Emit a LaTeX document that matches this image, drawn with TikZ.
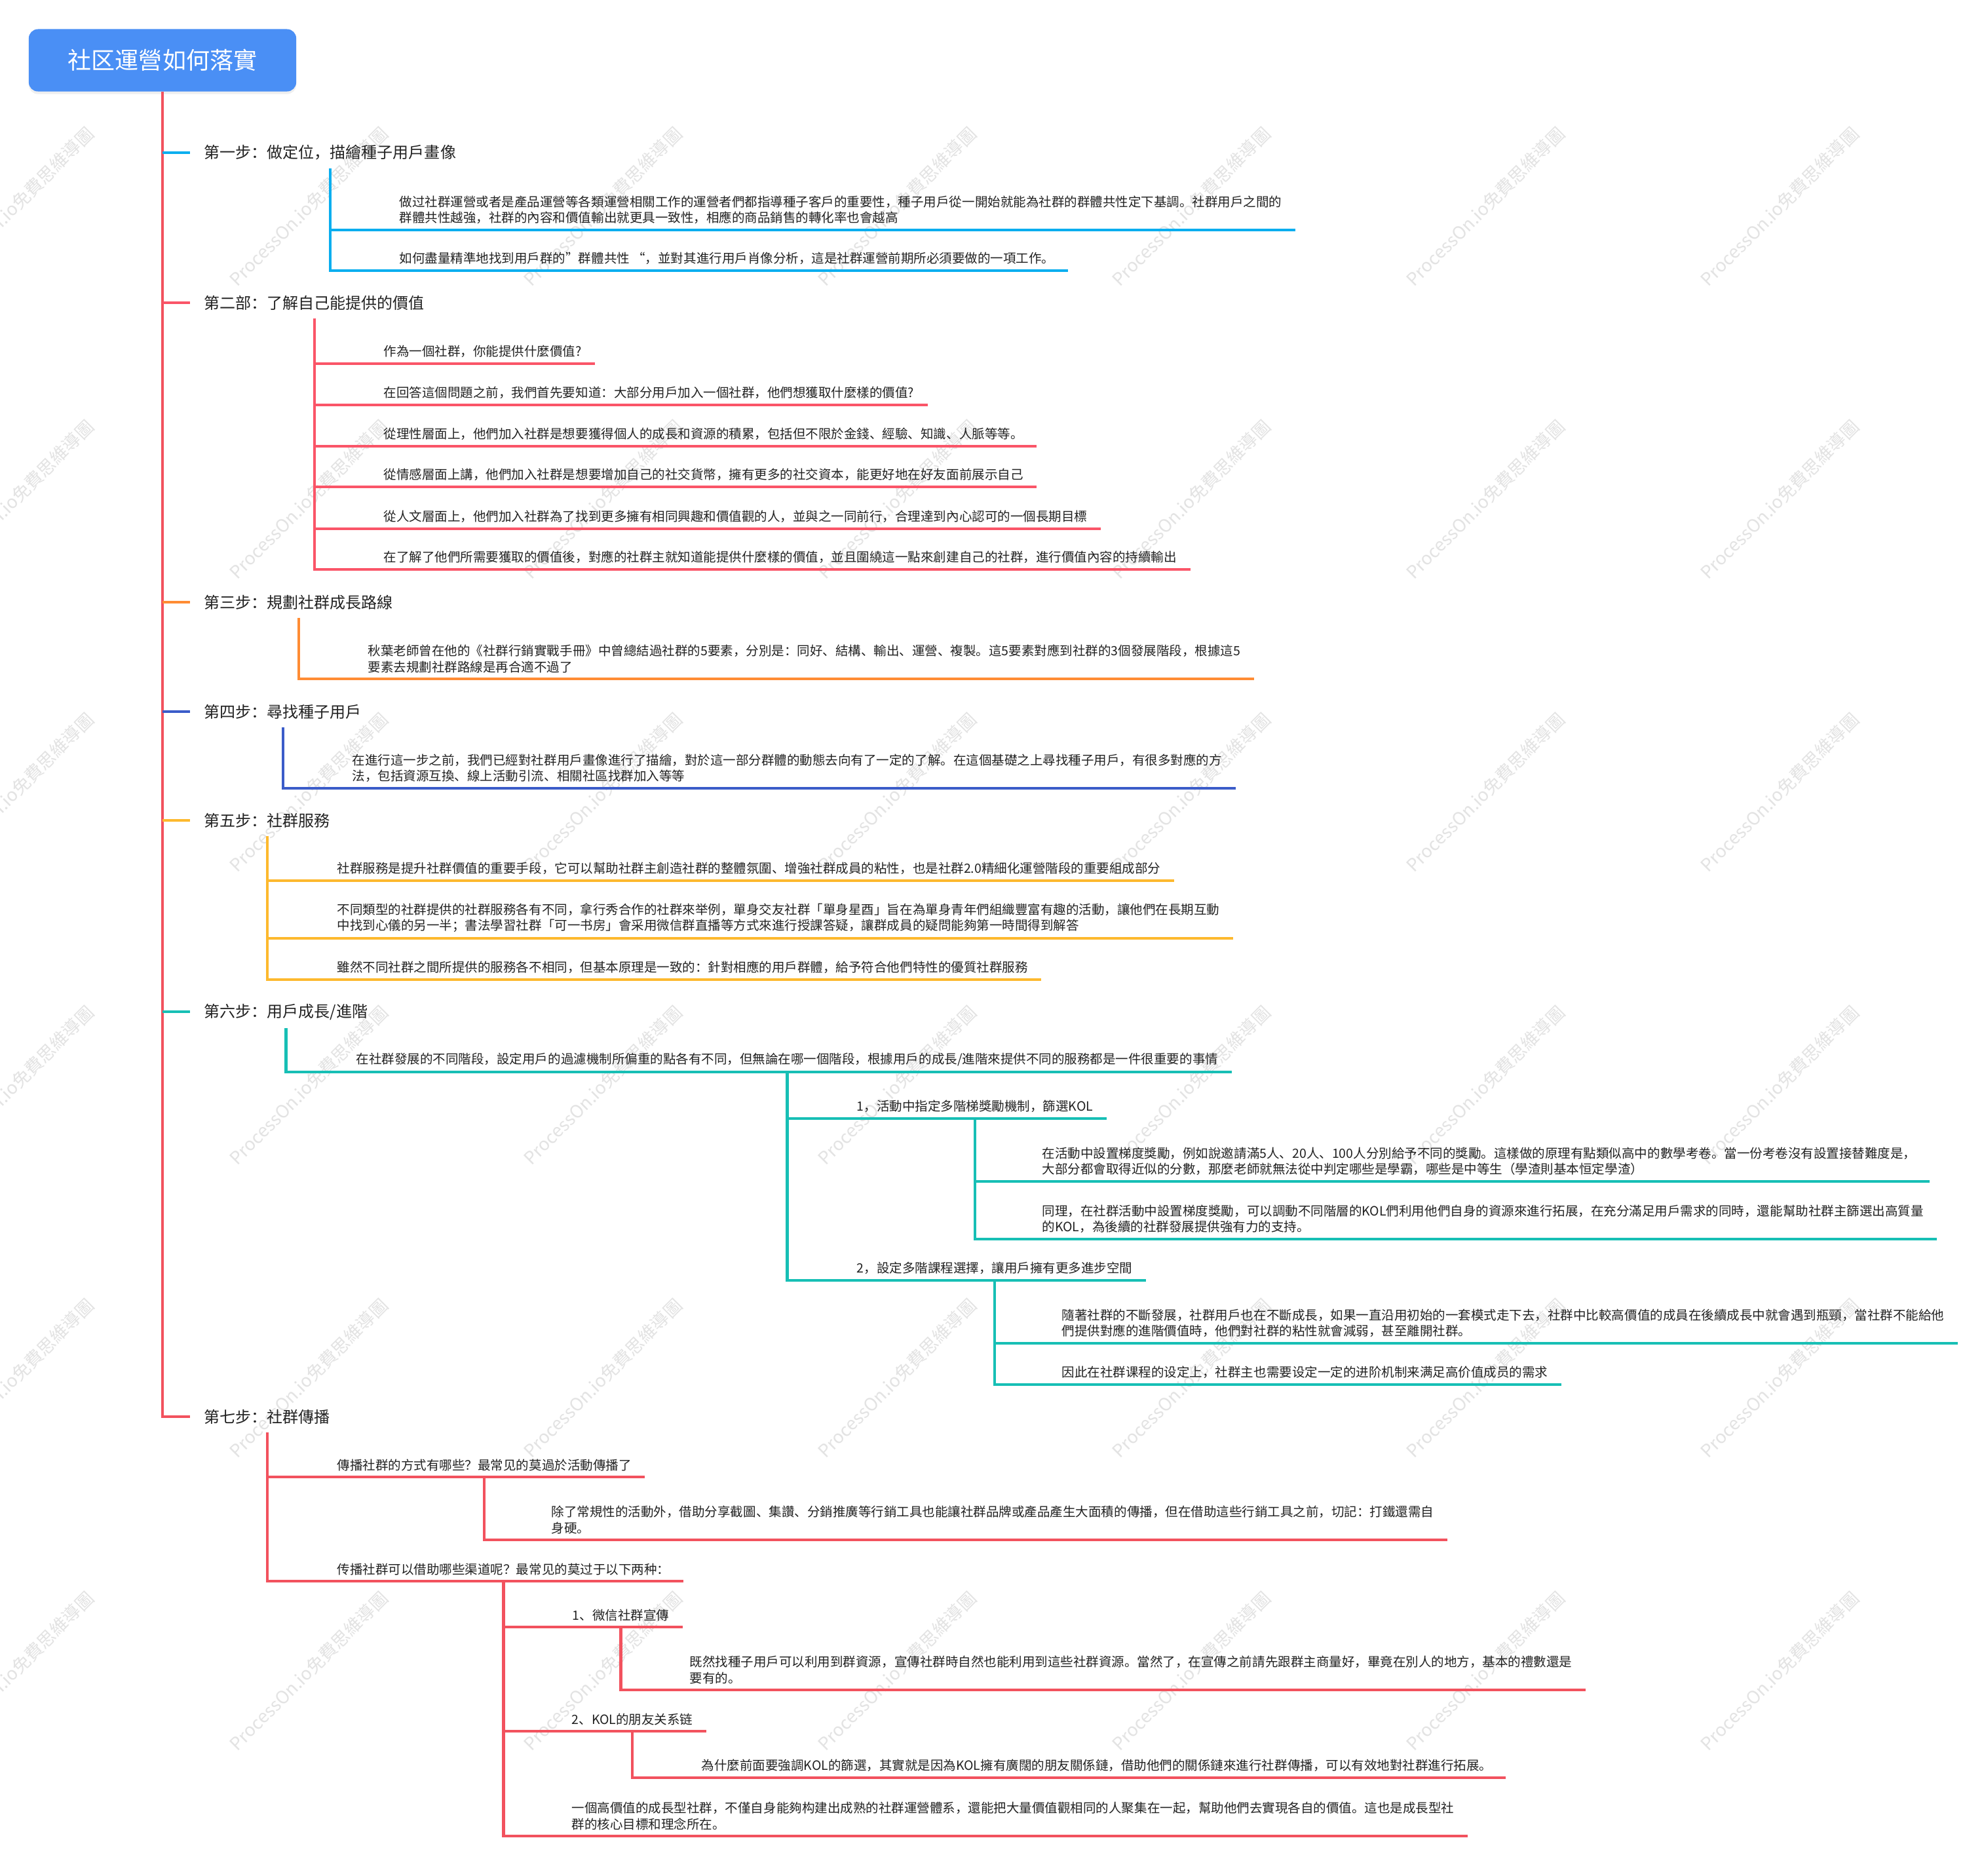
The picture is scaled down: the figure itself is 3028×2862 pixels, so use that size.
\documentclass[tikz,border=0pt]{standalone}
\usepackage{fontspec}
\newfontfamily\cjk{Noto Sans CJK SC}
\usetikzlibrary{positioning,calc,shadows}

\definecolor{rootblue}{HTML}{4A8FF5}
\definecolor{trunkred}{HTML}{F2525E}
\definecolor{stepblue}{HTML}{0AAEEF}
\definecolor{steppink}{HTML}{FA5568}
\definecolor{steporange}{HTML}{FF8C34}
\definecolor{stepnavy}{HTML}{3B5CC9}
\definecolor{stepyellow}{HTML}{FDB92E}
\definecolor{stepteal}{HTML}{17BFB5}
\definecolor{inkgray}{HTML}{222222}

\begin{document}
\begin{tikzpicture}[x=0.01cm, y=-0.01cm,
    root/.style={rectangle, rounded corners=4pt, fill=rootblue, text=white,
                 minimum width=4.08cm, minimum height=0.95cm,
                 font=\cjk\fontsize{10.24pt}{12pt}\selectfont,
                 drop shadow={opacity=0.12, shadow xshift=0pt, shadow yshift=-0.04cm}},
    steplabel/.style={anchor=west, inner xsep=0.21cm, inner ysep=0.12cm, text=inkgray,
                 font=\cjk\fontsize{6.83pt}{8pt}\selectfont},
    leaf/.style={anchor=south west, inner xsep=0.2cm, inner ysep=0.085cm,
                 align=left, text=inkgray, font=\cjk\fontsize{5.55pt}{6.97pt}\selectfont},
    watermark/.style={rotate=45, text=black!11, font=\cjk\fontsize{7.7pt}{9pt}\selectfont},
    link/.style={line width=1.2pt}
  ]

  \useasboundingbox (0,0) rectangle (3028,2862);
  \fill[white] (0,0) rectangle (3028,2862);

  % watermark grid
  \foreach \wx in {22,471,...,2716}
    \foreach \wy in {315,762,...,2550}
      \node[watermark] (wm-\wx-\wy) at (\wx,\wy) {ProcessOn.io免費思維導圖};

  \node[root] (title) at (248,92) {社区運營如何落實};

  % step 1
  \node[steplabel] (s1) at (290,233) {第一步：做定位，描繪種子用戶畫像};
  \node[leaf] (c11) at (589,351) {做过社群運營或者是產品運營等各類運營相關工作的運營者們都指導種子客戶的重要性，種子用戶從一開始就能為社群的群體共性定下基調。社群用戶之間的\\群體共性越強，社群的內容和價值輸出就更具一致性，相應的商品銷售的轉化率也會越高};
  \node[leaf] (c12) at (589,413) {如何盡量精準地找到用戶群的”群體共性 “，並對其進行用戶肖像分析，這是社群運營前期所必須要做的一項工作。};

  % step 2
  \node[steplabel] (s2) at (290,462) {第二部：了解自己能提供的價值};
  \node[leaf] (c21) at (565,555) {作為一個社群，你能提供什麼價值?};
  \node[leaf] (c22) at (565,618) {在回答這個問題之前，我們首先要知道：大部分用戶加入一個社群，他們想獲取什麼樣的價值?};
  \node[leaf] (c23) at (565,681) {從理性層面上，他們加入社群是想要獲得個人的成長和資源的積累，包括但不限於金錢、經驗、知識、人脈等等。};
  \node[leaf] (c24) at (565,743) {從情感層面上講，他們加入社群是想要增加自己的社交貨幣，擁有更多的社交資本，能更好地在好友面前展示自己};
  \node[leaf] (c25) at (565,807) {從人文層面上，他們加入社群為了找到更多擁有相同興趣和價值觀的人，並與之一同前行，合理達到內心認可的一個長期目標};
  \node[leaf] (c26) at (565,869) {在了解了他們所需要獲取的價值後，對應的社群主就知道能提供什麼樣的價值，並且圍繞這一點來創建自己的社群，進行價值內容的持續輸出};

  % step 3
  \node[steplabel] (s3) at (290,919) {第三步：規劃社群成長路線};
  \node[leaf] (c31) at (541,1036) {秋葉老師曾在他的《社群行銷實戰手冊》中曾總結過社群的5要素，分別是：同好、結構、輸出、運營、複製。這5要素對應到社群的3個發展階段，根據這5\\要素去規劃社群路線是再合適不過了};

  % step 4
  \node[steplabel] (s4) at (290,1086) {第四步：尋找種子用戶};
  \node[leaf] (c41) at (517,1203) {在進行這一步之前，我們已經對社群用戶畫像進行了描繪，對於這一部分群體的動態去向有了一定的了解。在這個基礎之上尋找種子用戶，有很多對應的方\\法，包括資源互換、線上活動引流、相關社區找群加入等等};

  % step 5
  \node[steplabel] (s5) at (290,1252) {第五步：社群服務};
  \node[leaf] (c51) at (494,1344) {社群服務是提升社群價值的重要手段，它可以幫助社群主創造社群的整體氛圍、增強社群成員的粘性，也是社群2.0精細化運營階段的重要組成部分};
  \node[leaf] (c52) at (494,1432) {不同類型的社群提供的社群服務各有不同，拿行秀合作的社群來举例，單身交友社群「單身星酉」旨在為單身青年們組織豐富有趣的活動，讓他們在長期互動\\中找到心儀的另一半；書法學習社群「可一书房」會采用微信群直播等方式來進行授課答疑，讓群成員的疑問能夠第一時間得到解答};
  \node[leaf] (c53) at (494,1495) {雖然不同社群之間所提供的服務各不相同，但基本原理是一致的：針對相應的用戶群體，給予符合他們特性的優質社群服務};

  % step 6
  \node[steplabel] (s6) at (290,1544) {第六步：用戶成長/進階};
  \node[leaf] (c61) at (523,1636) {在社群發展的不同階段，設定用戶的過濾機制所偏重的點各有不同，但無論在哪一個階段，根據用戶的成長/進階來提供不同的服務都是一件很重要的事情};
  \node[leaf] (c611) at (1287,1707) {1，活動中指定多階梯獎勵機制，篩選KOL};
  \node[leaf] (c6111) at (1570,1803) {在活動中設置梯度獎勵，例如說邀請滿5人、20人、100人分別給予不同的獎勵。這樣做的原理有點類似高中的數學考卷。當一份考卷沒有設置接替難度是，\\大部分都會取得近似的分數，那麼老師就無法從中判定哪些是學霸，哪些是中等生（學渣則基本恒定學渣）};
  \node[leaf] (c6112) at (1570,1891) {同理，在社群活動中設置梯度獎勵，可以調動不同階層的KOL們利用他們自身的資源來進行拓展，在充分滿足用戶需求的同時，還能幫助社群主篩選出高質量\\的KOL，為後續的社群發展提供強有力的支持。};
  \node[leaf] (c612) at (1287,1954) {2，設定多階課程選擇，讓用戶擁有更多進步空間};
  \node[leaf] (c6121) at (1600,2050) {隨著社群的不斷發展，社群用戶也在不斷成長，如果一直沿用初始的一套模式走下去，社群中比較高價值的成員在後續成長中就會遇到瓶頸，當社群不能給他\\們提供對應的進階價值時，他們對社群的粘性就會減弱，甚至離開社群。};
  \node[leaf] (c6122) at (1600,2113) {因此在社群课程的设定上，社群主也需要设定一定的进阶机制来满足高价值成员的需求};

  % step 7
  \node[steplabel] (s7) at (290,2162) {第七步：社群傳播};
  \node[leaf] (c71) at (494,2254) {傳播社群的方式有哪些？最常见的莫過於活動傳播了};
  \node[leaf] (c711) at (821,2350) {除了常規性的活動外，借助分享截圖、集讚、分銷推廣等行銷工具也能讓社群品牌或產品產生大面積的傳播，但在借助這些行銷工具之前，切記：打鐵還需自\\身硬。};
  \node[leaf] (c72) at (494,2413) {传播社群可以借助哪些渠道呢？最常见的莫过于以下两种：};
  \node[leaf] (c721) at (853,2483) {1、微信社群宣傳};
  \node[leaf] (c7211) at (1032,2579) {既然找種子用戶可以利用到群資源，宣傳社群時自然也能利用到這些社群資源。當然了，在宣傳之前請先跟群主商量好，畢竟在別人的地方，基本的禮數還是\\要有的。};
  \node[leaf] (c722) at (852,2642) {2、KOL的朋友关系链};
  \node[leaf] (c7221) at (1050,2713) {為什麼前面要強調KOL的篩選，其實就是因為KOL擁有廣闊的朋友關係鏈，借助他們的關係鏈來進行社群傳播，可以有效地對社群進行拓展。};
  \node[leaf] (c723) at (852,2802) {一個高價值的成長型社群，不僅自身能夠构建出成熟的社群運營體系，還能把大量價值觀相同的人聚集在一起，幫助他們去實現各自的價值。這也是成長型社\\群的核心目標和理念所在。};

  % trunk and step ticks
  \draw[link, trunkred] (title.south) |- (s7.west);
  \draw[link, stepblue] (title.south |- s1.west) -- (s1.west);
  \draw[link, steppink] (title.south |- s2.west) -- (s2.west);
  \draw[link, steporange] (title.south |- s3.west) -- (s3.west);
  \draw[link, stepnavy] (title.south |- s4.west) -- (s4.west);
  \draw[link, stepyellow] (title.south |- s5.west) -- (s5.west);
  \draw[link, stepteal] (title.south |- s6.west) -- (s6.west);

  % branches
  \draw[link, stepblue] (s1.south) |- (c11.south east);
  \draw[link, stepblue] (s1.south) |- (c12.south east);

  \draw[link, steppink] (s2.south) |- (c21.south east);
  \draw[link, steppink] (s2.south) |- (c22.south east);
  \draw[link, steppink] (s2.south) |- (c23.south east);
  \draw[link, steppink] (s2.south) |- (c24.south east);
  \draw[link, steppink] (s2.south) |- (c25.south east);
  \draw[link, steppink] (s2.south) |- (c26.south east);

  \draw[link, steporange] (s3.south) |- (c31.south east);
  \draw[link, stepnavy] (s4.south) |- (c41.south east);

  \draw[link, stepyellow] (s5.south) |- (c51.south east);
  \draw[link, stepyellow] (s5.south) |- (c52.south east);
  \draw[link, stepyellow] (s5.south) |- (c53.south east);

  \draw[link, stepteal] (s6.south) |- (c61.south east);
  \draw[link, stepteal] (c61.south) |- (c611.south east);
  \draw[link, stepteal] (c61.south) |- (c612.south east);
  \draw[link, stepteal] (c611.south) |- (c6111.south east);
  \draw[link, stepteal] (c611.south) |- (c6112.south east);
  \draw[link, stepteal] (c612.south) |- (c6121.south east);
  \draw[link, stepteal] (c612.south) |- (c6122.south east);

  \draw[link, trunkred] (s7.south) |- (c71.south east);
  \draw[link, trunkred] (s7.south) |- (c72.south east);
  \draw[link, trunkred] (c71.south) |- (c711.south east);
  \draw[link, trunkred] (c72.south) |- (c721.south east);
  \draw[link, trunkred] (c72.south) |- (c722.south east);
  \draw[link, trunkred] (c72.south) |- (c723.south east);
  \draw[link, trunkred] (c721.south) |- (c7211.south east);
  \draw[link, trunkred] (c722.south) |- (c7221.south east);

\end{tikzpicture}
\end{document}
